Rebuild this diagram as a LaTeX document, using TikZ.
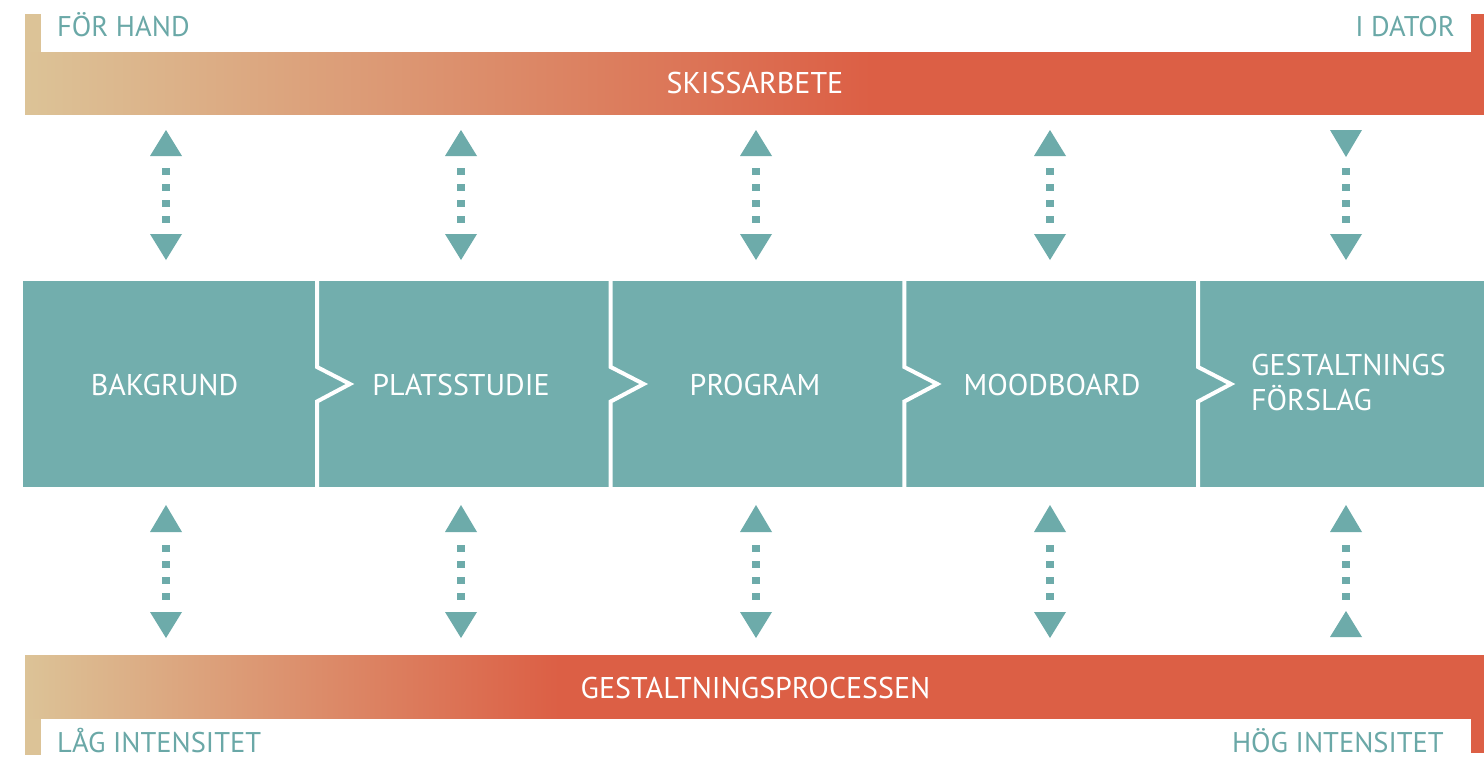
\documentclass[tikz,border=0pt]{standalone}
\usepackage{fontspec}
\setmainfont{PT Sans}
\definecolor{bandteal}{HTML}{72AEAD}
\definecolor{arrteal}{HTML}{6DABAA}
\definecolor{txtteal}{HTML}{6AA8A7}
\definecolor{tanc}{HTML}{DCC397}
\definecolor{redc}{HTML}{DC5F45}
\pgfdeclarehorizontalshading{topgrad}{100bp}{color(0bp)=(tanc); color(25bp)=(tanc); color(54bp)=(redc); color(100bp)=(redc)}
\pgfdeclarehorizontalshading{botgrad}{100bp}{color(0bp)=(tanc); color(25bp)=(tanc); color(43.3bp)=(redc); color(100bp)=(redc)}
\begin{document}
\begin{tikzpicture}[x=1pt,y=-1pt,
  mainlbl/.style={text=white,font=\fontsize{30}{35}\selectfont,inner sep=0pt},
  cornerlbl/.style={text=txtteal,font=\fontsize{28.5}{32}\selectfont,inner sep=0pt},
  tri/.style={fill=arrteal},
  dotline/.style={draw=arrteal,line width=7.5pt,dash pattern=on 7pt off 9pt},
  sepline/.style={draw=white,line width=4pt,line join=miter}]
\useasboundingbox (0,0) rectangle (1484,758);
\fill[white] (0,0) rectangle (1484,758);
% top bar
\fill[tanc] (25,14) rectangle (41,53);
\fill[redc] (1471,14) rectangle (1484,53);
\shade[shading=topgrad] (25,52) rectangle (1484,114);
% bottom bar
\fill[tanc] (25,717) rectangle (41,755);
\fill[redc] (1471,717) rectangle (1484,753);
\shade[shading=botgrad] (25,655) rectangle (1484,718);
% band
\fill[bandteal] (23,281) rectangle (1484,487);
\foreach \sx in {317,610.7,904.3,1198}{
  \draw[sepline] (\sx,281) -- (\sx,367) -- (\sx+33,384) -- (\sx,401.5) -- (\sx,487);
}
% labels
\node[mainlbl,anchor=base] (skiss) at (755,93.5) {SKISSARBETE};
\node[mainlbl,anchor=base] (gproc) at (755.5,698.5) {GESTALTNINGSPROCESSEN};
\node[mainlbl,anchor=base] (bak) at (164.5,395) {BAKGRUND};
\node[mainlbl,anchor=base] (plats) at (461,395) {PLATSSTUDIE};
\node[mainlbl,anchor=base] (prog) at (755,395) {PROGRAM};
\node[mainlbl,anchor=base] (mood) at (1052,395) {MOODBOARD};
\node[mainlbl,anchor=base west,align=left] (gforsl) at (1251,410) {GESTALTNINGS\\FÖRSLAG};
\node[cornerlbl,anchor=base west] (hand) at (57,36) {FÖR HAND};
\node[cornerlbl,anchor=base east] (dator) at (1455,36) {I DATOR};
\node[cornerlbl,anchor=base west] (lag) at (57,752) {LÅG INTENSITET};
\node[cornerlbl,anchor=base east] (hog) at (1444,752) {HÖG INTENSITET};
% arrows
\foreach \cx [count=\i] in {166,461,756,1050,1346}{
  % top column
  \ifnum\i<5
    \fill[tri] (\cx,130) -- (\cx+16,156) -- (\cx-16,156) -- cycle;
  \else
    \fill[tri] (\cx-16,130) -- (\cx+16,130) -- (\cx,157) -- cycle;
  \fi
  \coordinate (ts\i) at (\cx,168);
  \coordinate (te\i) at (\cx,223);
  \draw[dotline] (ts\i) -- (te\i);
  \fill[tri] (\cx-16,234) -- (\cx+16,234) -- (\cx,260) -- cycle;
  % bottom column
  \fill[tri] (\cx,505) -- (\cx+16,532) -- (\cx-16,532) -- cycle;
  \coordinate (bs\i) at (\cx,545);
  \coordinate (be\i) at (\cx,600);
  \draw[dotline] (bs\i) -- (be\i);
  \ifnum\i<5
    \fill[tri] (\cx-16,612) -- (\cx+16,612) -- (\cx,638) -- cycle;
  \else
    \fill[tri] (\cx,611) -- (\cx+16,637) -- (\cx-16,637) -- cycle;
  \fi
}
\end{tikzpicture}
\end{document}
